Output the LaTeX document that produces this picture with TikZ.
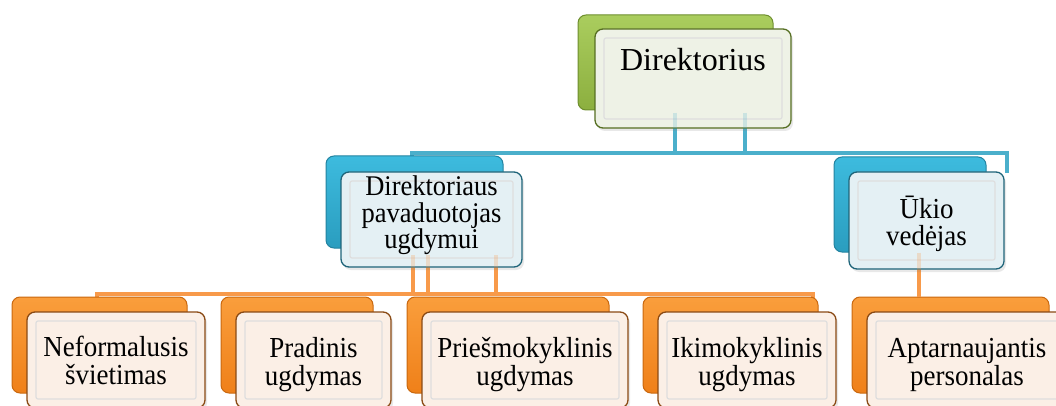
\documentclass[tikz,border=0pt]{standalone}
\usepackage{fontspec}
\setmainfont{Liberation Serif}
\newfontfamily\boxfont[FakeStretch=0.93]{Liberation Serif}
\usetikzlibrary{calc,shadows}
\definecolor{gTop}{HTML}{AACD5E}
\definecolor{gBot}{HTML}{8CAF3F}
\definecolor{gLine}{HTML}{6E8E2E}
\definecolor{gFill}{HTML}{EEF2E6}
\definecolor{gEdge}{HTML}{566F22}
\definecolor{bTop}{HTML}{3DBBDE}
\definecolor{bBot}{HTML}{2A9DBF}
\definecolor{bLine}{HTML}{2383A0}
\definecolor{bFill}{HTML}{E4F0F4}
\definecolor{bEdge}{HTML}{1E6479}
\definecolor{oTop}{HTML}{FA9E3C}
\definecolor{oBot}{HTML}{EF8019}
\definecolor{oLine}{HTML}{C9680F}
\definecolor{oFill}{HTML}{FBEFE6}
\definecolor{oEdge}{HTML}{8A4A14}
\definecolor{bConn}{HTML}{4BAFCB}
\definecolor{oConn}{HTML}{F89A4A}
\newcommand{\topstrut}{\rule{0pt}{26pt}}
\tikzset{
  backbox/.style={rectangle, rounded corners=8pt, line width=1pt, inner sep=0pt},
  greenback/.style={backbox, top color=gTop, bottom color=gBot, draw=gLine},
  blueback/.style={backbox, top color=bTop, bottom color=bBot, draw=bLine},
  orangeback/.style={backbox, top color=oTop, bottom color=oBot, draw=oLine},
  frontbox/.style={rectangle, rounded corners=8pt, line width=1.3pt, inner sep=0pt,
    drop shadow={shadow xshift=2pt, shadow yshift=-3pt, opacity=0.18},
    path picture={
      \draw[black!13, line width=1.2pt, rounded corners=2pt]
        ([shift={(9pt,-9pt)}]path picture bounding box.north west) rectangle
        ([shift={(-9pt,9pt)}]path picture bounding box.south east);
    }},
  greenfront/.style={frontbox, fill=gFill, draw=gEdge},
  bluefront/.style={frontbox, fill=bFill, draw=bEdge},
  orangefront/.style={frontbox, fill=oFill, draw=oEdge},
  boxtext/.style={align=center, inner sep=0pt, anchor=north, font=\boxfont\fontsize{29}{27.3}\selectfont},
  deptext/.style={boxtext, font=\boxfont\fontsize{28.5}{26.3}\selectfont},
  bconn/.style={draw=bConn, line width=4.2pt},
  oconn/.style={draw=oConn, line width=4.2pt},
  faintb/.style={draw=bConn, line width=4.2pt, opacity=0.22},
  fainto/.style={draw=oConn, line width=4.2pt, opacity=0.25}
}
\begin{document}
\begin{tikzpicture}[x=1pt,y=-1pt]
\useasboundingbox (0,0) rectangle (1056,406);

% ---- connectors (behind boxes)
\coordinate (bL) at (412,153);
\coordinate (bR) at (1007,153);
\draw[bconn] (412,162) |- (bR) -- (1007,173);
\coordinate (oL) at (97,294);
\coordinate (oR) at (813,294);
\draw[oconn] (97,299) |- (oR) -- (813,299);

% ---- back boxes
\node[greenback, minimum width=195pt, minimum height=95pt] (dirB) at (675.5,62.5) {};
\node[blueback, minimum width=177pt, minimum height=92pt] (depB) at (414.5,202) {};
\node[blueback, minimum width=152pt, minimum height=95pt] (ukB) at (910,204.5) {};
\node[orangeback, minimum width=175pt, minimum height=96pt] (neB) at (99.5,345) {};
\node[orangeback, minimum width=152pt, minimum height=96pt] (prB) at (297,345) {};
\node[orangeback, minimum width=202pt, minimum height=96pt] (piB) at (508,345) {};
\node[orangeback, minimum width=175pt, minimum height=96pt] (ikB) at (730.5,345) {};
\node[orangeback, minimum width=197pt, minimum height=96pt] (apB) at (950.5,345) {};

% ---- connectors from parents
\draw[bconn] ($(dirB.south)+(-0.5,0)$) coordinate (d1) -- (d1 |- bL);
\draw[bconn] ($(dirB.south)+(69.5,0)$) coordinate (d2) -- (d2 |- bL);
\draw[oconn] ($(depB.south)+(-1.5,0)$) coordinate (p1) -- (p1 |- oL);
\draw[oconn] ($(depB.south)+(13.5,0)$) coordinate (p2) -- (p2 |- oL);
\draw[oconn] ($(depB.south)+(81.5,0)$) coordinate (p3) -- (p3 |- oL);
\draw[oconn] ($(ukB.south)+(9,0)$) coordinate (u1) -- (u1 |- apB.north);

% ---- front boxes
\node[greenfront, minimum width=196pt, minimum height=99pt] (dirF) at (693,78.5) {};
\node[bluefront, minimum width=181pt, minimum height=95pt] (depF) at (431.5,219.5) {};
\node[bluefront, minimum width=155pt, minimum height=97pt] (ukF) at (926.5,220.5) {};
\node[orangefront, minimum width=178pt, minimum height=96pt] (neF) at (116,360) {};
\node[orangefront, minimum width=155pt, minimum height=96pt] (prF) at (313.5,360) {};
\node[orangefront, minimum width=206pt, minimum height=96pt] (piF) at (525,360) {};
\node[orangefront, minimum width=178pt, minimum height=96pt] (ikF) at (747,360) {};
\node[orangefront, minimum width=200pt, minimum height=96pt] (apF) at (967,360) {};

% ---- faint connector parts seen through the front boxes
\draw[faintb] (d1 |- 0,113) -- (d1 |- dirF.south);
\draw[faintb] (d2 |- 0,113) -- (d2 |- dirF.south);
\draw[fainto] (p1 |- 0,255) -- (p1 |- depF.south);
\draw[fainto] (p2 |- 0,255) -- (p2 |- depF.south);
\draw[fainto] (p3 |- 0,255) -- (p3 |- depF.south);
\draw[fainto] (u1) -- (u1 |- ukF.south);

% ---- texts (anchored at first-line baseline minus strut height)
\node[inner sep=0pt, anchor=base, font=\fontsize{32}{34}\selectfont] (dirT) at (dirF.center |- 0,71) {Direktorius};
\node[deptext] (depT) at (depF.center |- 0,169.5) {\topstrut Direktoriaus\\pavaduotojas\\ugdymui};
\node[boxtext] (ukT) at (ukF.center |- 0,192) {\topstrut Ūkio\\vedėjas};
\node[boxtext] (neT) at (neF.center |- 0,330.5) {\topstrut Neformalusis\\švietimas};
\node[boxtext] (prT) at (prF.center |- 0,331.5) {\topstrut Pradinis\\ugdymas};
\node[boxtext] (piT) at (piF.center |- 0,331.5) {\topstrut Priešmokyklinis\\ugdymas};
\node[boxtext] (ikT) at (ikF.center |- 0,331.5) {\topstrut Ikimokyklinis\\ugdymas};
\node[boxtext] (apT) at (apF.center |- 0,331.5) {\topstrut Aptarnaujantis\\personalas};
\end{tikzpicture}
\end{document}
